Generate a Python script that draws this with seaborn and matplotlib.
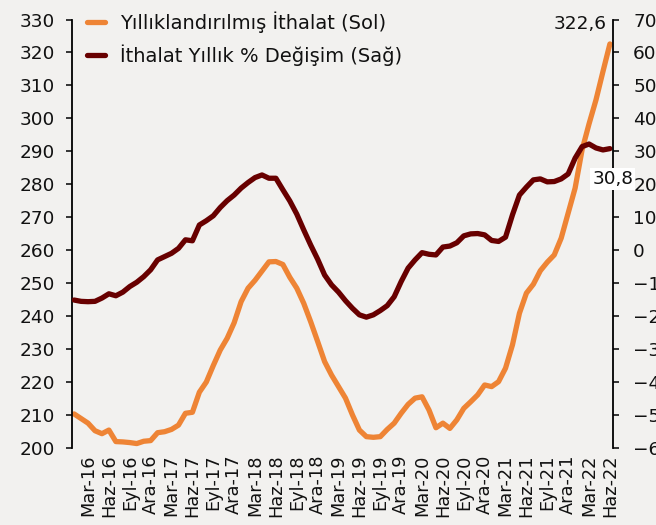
import matplotlib
matplotlib.use("Agg")
import numpy as np
import pandas as pd
import matplotlib.pyplot as plt
import seaborn as sns

# Monthly data, Jan-16 .. Jun-22
ithalat = [210.2, 208.8, 207.4, 205.1, 204.2, 205.3, 201.8, 201.7, 201.5, 201.2, 201.9, 202.1,
           204.5, 204.8, 205.5, 206.8, 210.4, 210.7, 216.8, 219.9, 224.9, 229.6, 233.2, 237.9,
           244.3, 248.4, 250.8, 253.6, 256.4, 256.5, 255.6, 251.7, 248.4, 243.8, 238.2, 232.2,
           226.1, 222.0, 218.5, 215.0, 209.9, 205.3, 203.3, 203.1, 203.3, 205.5, 207.4, 210.4,
           213.1, 215.0, 215.4, 211.4, 206.0, 207.4, 205.8, 208.4, 211.9, 213.9, 216.0, 219.0,
           218.5, 220.0, 224.1, 231.2, 240.8, 246.9, 249.6, 253.7, 256.3, 258.5, 263.6, 271.2,
           278.8, 290.4, 298.3, 305.6, 314.2, 322.6]
degisim = [-15.2, -15.6, -15.7, -15.6, -14.6, -13.3, -13.9, -12.8, -11.1, -9.8, -8.1, -6.0,
           -3.0, -2.0, -1.0, 0.5, 3.1, 2.8, 7.6, 8.9, 10.4, 12.9, 15.0, 16.7,
           18.8, 20.5, 22.0, 22.8, 21.8, 21.8, 18.3, 14.9, 10.9, 6.1, 1.5, -2.8,
           -7.6, -10.6, -12.8, -15.4, -17.7, -19.7, -20.4, -19.7, -18.4, -16.9, -14.2, -9.6,
           -5.5, -3.0, -0.8, -1.3, -1.5, 0.9, 1.2, 2.2, 4.3, 4.9, 5.0, 4.6,
           2.9, 2.6, 3.9, 10.7, 16.7, 19.1, 21.3, 21.6, 20.7, 20.8, 21.6, 23.1,
           27.9, 31.4, 32.2, 31.0, 30.4, 30.8]

ay = ["Oca", "Şub", "Mar", "Nis", "May", "Haz", "Tem", "Ağu", "Eyl", "Eki", "Kas", "Ara"]
aylar = pd.date_range("2016-01-01", periods=len(ithalat), freq="MS")
etiket = [f"{ay[d.month - 1]}-{d.year % 100:02d}" for d in aylar]

df = pd.DataFrame({"i": np.arange(len(ithalat)), "ithalat": ithalat, "degisim": degisim})

bg = "#F2F1EF"
turuncu = "#EE8435"
bordo = "#680000"

sns.set_style("white", {"axes.facecolor": bg, "figure.facecolor": bg})
plt.rcParams["font.family"] = ["DejaVu Sans"]
plt.rcParams["text.color"] = "#111111"

fig = plt.figure(figsize=(6.56, 5.25), dpi=100)
ax = fig.add_axes([0.1098, 0.1476, 0.8247, 0.8151])
ax2 = ax.twinx()

sns.lineplot(data=df, x="i", y="ithalat", ax=ax, color=turuncu, lw=3.8,
             label="Yıllıklandırılmış İthalat (Sol)", legend=False)
sns.lineplot(data=df, x="i", y="degisim", ax=ax2, color=bordo, lw=3.8,
             label="İthalat Yıllık % Değişim (Sağ)", legend=False)

ax.set_xlim(-0.3, 77.45)
ax.set_ylim(200, 330)
ax2.set_ylim(-60, 70)
ax.set_yticks(np.arange(200, 331, 10))
ax2.set_yticks(np.arange(-60, 71, 10))

pos = list(range(2, len(etiket), 3))
ax.set_xticks(pos)
ax.set_xticklabels([etiket[p] for p in pos], rotation=90)
ax.tick_params(axis="x", length=0, pad=5, labelsize=12.8, labelcolor="#111111")
ax.tick_params(axis="y", length=4, width=1.3, pad=8.5, labelsize=13.3, direction="out",
               labelcolor="#111111")
ax2.tick_params(axis="y", length=4, width=1.3, pad=10.5, labelsize=13.3, direction="out",
                labelcolor="#111111")
ax.set_xlabel("")
ax.set_ylabel("")
ax2.set_ylabel("")

for a in (ax, ax2):
    for s in ("top", "bottom"):
        a.spines[s].set_visible(False)
    for s in ("left", "right"):
        a.spines[s].set_color("black")
        a.spines[s].set_linewidth(1.3)
ax2.spines["left"].set_visible(False)
ax.spines["right"].set_visible(False)

ax2.annotate("322,6", xy=(77, 322.6 - 260), xytext=(-2, 14.5), textcoords="offset points",
             ha="right", va="center", fontsize=13.3)
ax2.annotate("30,8", xy=(77, 30.8), xytext=(2, -22), textcoords="offset points",
             ha="center", va="center", fontsize=13.3,
             bbox=dict(boxstyle="square,pad=0.12", fc="white", ec="none"))

h1, l1 = ax.get_legend_handles_labels()
h2, l2 = ax2.get_legend_handles_labels()
ax2.legend(h1 + h2, l1 + l2, loc="upper left", frameon=False, fontsize=14,
           handlelength=0.9, handletextpad=0.8, labelspacing=0.6,
           bbox_to_anchor=(-0.008, 1.065), borderaxespad=0.6)

fig.savefig("out.png", dpi=100, facecolor=bg)
